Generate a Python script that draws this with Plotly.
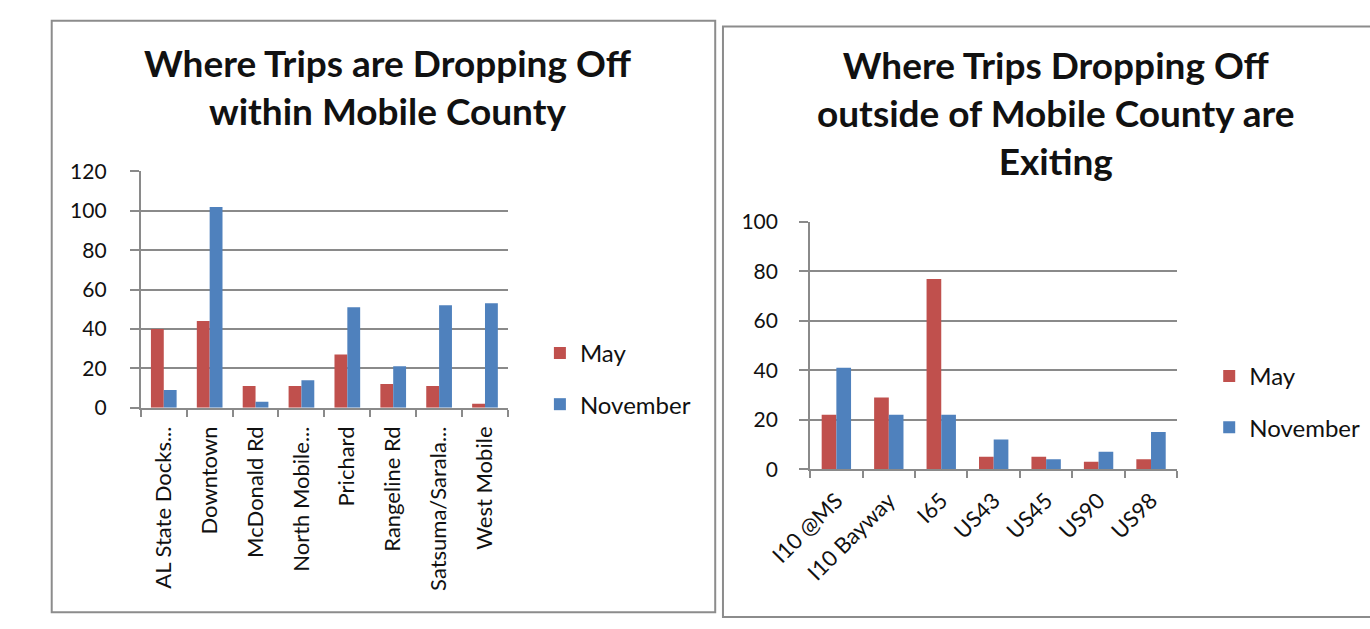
import plotly.graph_objects as go

# ---------------- data ----------------
inside_categories = ["AL State Docks...", "Downtown", "McDonald Rd", "North Mobile...",
                     "Prichard", "Rangeline Rd", "Satsuma/Sarala...", "West Mobile"]
inside_may = [40, 44, 11, 11, 27, 12, 11, 2]
inside_november = [9, 102, 3, 14, 51, 21, 52, 53]

outside_categories = ["I10 @MS", "I10 Bayway", "I65", "US43", "US45", "US90", "US98"]
outside_may = [22, 29, 77, 5, 5, 3, 4]
outside_november = [41, 22, 22, 12, 4, 7, 15]

series_names = ["May", "November"]
inside_ticks = [0, 20, 40, 60, 80, 100, 120]
outside_ticks = [0, 20, 40, 60, 80, 100]

title_left = "Where Trips are Dropping Off<br>within Mobile County"
title_right = "Where Trips Dropping Off<br>outside of Mobile County are<br>Exiting"

# ---------------- styles ----------------
W, H = 1370, 629
RED = "#C0504D"
BLUE = "#4F81BD"
GRID = "#8A8A8A"
FONT = "Lato"
TXT = "#111111"


def fx(px):
    return px / W


def fy(py):
    return 1 - py / H


fig = go.Figure()

fig.add_trace(go.Bar(x=inside_categories, y=inside_may, name=series_names[0],
                     marker=dict(color=RED, line=dict(width=0)),
                     xaxis="x", yaxis="y", legend="legend", legendgroup="a1"))
fig.add_trace(go.Bar(x=inside_categories, y=inside_november, name=series_names[1],
                     marker=dict(color=BLUE, line=dict(width=0)),
                     xaxis="x", yaxis="y", legend="legend", legendgroup="a2"))
fig.add_trace(go.Bar(x=outside_categories, y=outside_may, name=series_names[0],
                     marker=dict(color=RED, line=dict(width=0)),
                     xaxis="x2", yaxis="y2", legend="legend2", legendgroup="b1"))
fig.add_trace(go.Bar(x=outside_categories, y=outside_november, name=series_names[1],
                     marker=dict(color=BLUE, line=dict(width=0)),
                     xaxis="x2", yaxis="y2", legend="legend2", legendgroup="b2"))

xtickfont = dict(family=FONT, size=22, color=TXT)
ytickfont = dict(family=FONT, size=21, color=TXT)

xcommon = dict(showline=True, linecolor=GRID, linewidth=2, ticks="outside",
               tickson="boundaries", ticklen=7, tickwidth=2, tickcolor=GRID,
               showgrid=False, zeroline=False, tickfont=xtickfont, fixedrange=True)
ycommon = dict(showline=True, linecolor=GRID, linewidth=2, ticks="outside",
               ticklen=9, tickwidth=2, tickcolor=GRID, showgrid=True,
               gridcolor=GRID, gridwidth=2, zeroline=False, tickfont=ytickfont,
               fixedrange=True)

legend_font = dict(family=FONT, size=24, color=TXT)

fig.update_layout(
    width=W, height=H,
    margin=dict(l=0, r=0, t=0, b=0),
    paper_bgcolor="white", plot_bgcolor="white",
    barmode="group", bargap=0.44, bargroupgap=0,
    showlegend=True,
    xaxis=dict(domain=[fx(101), fx(480)], anchor="y", tickangle=-90,
               ticklabelstandoff=8, **xcommon),
    yaxis=dict(domain=[fy(410), fy(164)], anchor="x", range=[0, 120],
               tickvals=inside_ticks, ticklabelstandoff=19, **ycommon),
    xaxis2=dict(domain=[fx(792), fx(1171)], anchor="y2", tickangle=-45,
                ticklabelstandoff=8, **xcommon),
    yaxis2=dict(domain=[fy(474), fy(216.7)], anchor="x2", range=[0, 100],
                tickvals=outside_ticks, ticklabelstandoff=17, **ycommon),
    legend=dict(x=fx(513), y=fy(330), xanchor="left", yanchor="top",
                font=legend_font, traceorder="grouped", tracegroupgap=17,
                bgcolor="rgba(0,0,0,0)"),
    legend2=dict(x=fx(1204), y=fy(354), xanchor="left", yanchor="top",
                 font=legend_font, traceorder="grouped", tracegroupgap=17,
                 bgcolor="rgba(0,0,0,0)"),
    shapes=[
        dict(type="rect", xref="paper", yref="paper",
             x0=fx(9), x1=fx(694), y0=fy(623), y1=fy(7),
             line=dict(color="#8C8C8C", width=2), fillcolor="rgba(0,0,0,0)"),
        dict(type="rect", xref="paper", yref="paper",
             x0=fx(702), x1=fx(1380), y0=fy(628), y1=fy(13),
             line=dict(color="#8C8C8C", width=2), fillcolor="rgba(0,0,0,0)"),
    ],
    annotations=[
        dict(text="<b>" + title_left + "</b>", xref="paper", yref="paper",
             x=fx(356), y=fy(76), xanchor="center", yanchor="middle",
             showarrow=False, font=dict(family=FONT, size=37, color=TXT)),
        dict(text="<b>" + title_right + "</b>", xref="paper", yref="paper",
             x=fx(1046), y=fy(103), xanchor="center", yanchor="middle",
             showarrow=False, font=dict(family=FONT, size=37, color=TXT)),
    ],
)

fig.write_html("out.html", config={"displayModeBar": False})
